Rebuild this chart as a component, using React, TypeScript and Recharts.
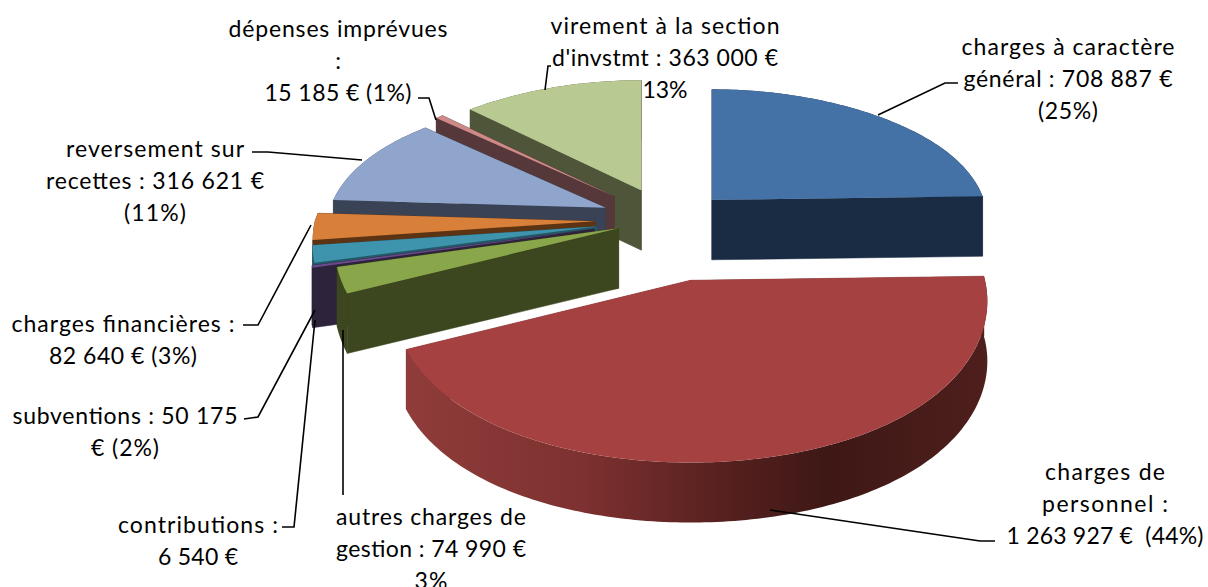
import React from 'react';
import { PieChart, Pie } from 'recharts';

// Listed from the top of the pie going counter-clockwise: this is also back-to-front paint order.
const names = ['virement', 'depenses', 'reversement', 'financieres', 'subventions', 'contributions', 'autres', 'personnel', 'general'];
const values = [363000, 15185, 316621, 82640, 50175, 6540, 74990, 1263927, 708887];
const explode = [0.22, 0.25, 0.23, 0.25, 0.25, 0.26, 0.175, 0.42, 0.23];
const nudgeY = [0, 2, 1, 0, 0, 0, 0, 0, 4];
const nudgeX = [0, 0, 0, 0, 0, 0, 0, 0, 2];
const topColors = ['#b8c992', '#cf8a88', '#8fa5cc', '#d8803a', '#3f94ad', '#6a4a8c', '#8aa64a', '#a54241', '#4471a6'];
const wallColors = ['#4f5539', '#56383a', '#3a4256', '#5c3414', '#255a6b', '#2d233b', '#3c461f', 'url(#redWall)', '#1a2c44'];

const labelLines = [
  ['virement à la section', "d'invstmt : 363 000 €", '13%'],
  ['dépenses imprévues', ':', '15 185 € (1%)'],
  ['reversement sur', 'recettes : 316 621 €', '(11%)'],
  ['charges financières :', '82 640 € (3%)'],
  ['subventions : 50 175', '€ (2%)'],
  ['contributions :', '6 540 €'],
  ['autres charges de', 'gestion : 74 990 €', '3%'],
  ['charges de', 'personnel :', '1 263 927 €  (44%)'],
  ['charges à caractère', 'général : 708 887 €', '(25%)'],
];

// layout only
const labelWidths = [
  [229, 226, 45],
  [219, 6, 147],
  [178, 218, 62],
  [223, 148],
  [225, 68],
  [160, 80],
  [190, 190, 33],
  [120, 126, 197],
  [213, 209, 60],
];
const labelCenters = [[665, 25], [338, 28], [155, 148], [123, 323], [125, 415], [198, 524], [431, 516], [1105, 471], [1068, 46]];
const leaders = [
  '545,90 548,66 551,66',
  '436,120 429,98 418,98',
  '362,160 268,152 252,152',
  '311,225 258,325 243,325',
  '315,310 258,417 244,419',
  '315,320 294,527 282,527',
  '343,330 343,495',
  '770,510 980,541 995,541',
  '878,115 945,83 958,83',
];
const RX = 280;
const RY = 147;
const DEPTH = 60;
const LINE_H = 31.8;

const rad = (d: number) => (d * Math.PI) / 180;

function Slice(props: any) {
  const { cx, cy, startAngle, endAngle, index } = props;
  const mid = rad((startAngle + endAngle) / 2);
  const e = explode[index];
  const ex = e * Math.cos(mid);
  const ey = -e * Math.sin(mid);
  const ax = cx + RX * ex + nudgeX[index];
  const ay = cy + RY * ey + nudgeY[index];
  const proj = (deg: number): [number, number] => {
    const u = Math.cos(rad(deg));
    const v = -Math.sin(rad(deg));
    const vt = ey + v;
    const k = vt < 0 ? 0.18 : 0.12;
    return [ax + (RX * u) / (1 - k * vt), ay + v * (145 + 42 * Math.tanh(vt))];
  };
  const arc: [number, number][] = [];
  const n = Math.max(2, Math.ceil(Math.abs(endAngle - startAngle)));
  for (let i = 0; i <= n; i++) arc.push(proj(startAngle + ((endAngle - startAngle) * i) / n));
  const ring: [number, number][] = [[ax, ay], ...arc];
  const top = 'M' + ring.map((p) => p.join(',')).join('L') + 'Z';
  const cut = (a: [number, number], b: [number, number]) =>
    `M${a[0]},${a[1]}L${b[0]},${b[1]}L${b[0]},${b[1] + DEPTH}L${a[0]},${a[1] + DEPTH}Z`;
  const outer =
    'M' +
    arc.map((p) => p.join(',')).join('L') +
    'L' +
    [...arc].reverse().map((p) => `${p[0]},${p[1] + DEPTH}`).join('L') +
    'Z';
  const wall = wallColors[index];
  const cutFill = wall.startsWith('url') ? '#7a2f2e' : wall;
  return (
    <g>
      {wall.startsWith('url') && (
        <defs>
          <linearGradient id="redWall" gradientUnits="userSpaceOnUse" x1="407" y1="0" x2="992" y2="0">
            <stop offset="0" stopColor="#8f3c3a" />
            <stop offset="0.3" stopColor="#7d3130" />
            <stop offset="0.55" stopColor="#55201e" />
            <stop offset="0.72" stopColor="#3e1816" />
            <stop offset="1" stopColor="#4f1f1c" />
          </linearGradient>
        </defs>
      )}
      <path d={cut(ring[0], arc[0])} fill={cutFill} stroke={cutFill} strokeWidth={0.5} />
      <path d={cut(ring[0], arc[arc.length - 1])} fill={cutFill} stroke={cutFill} strokeWidth={0.5} />
      <path d={outer} fill={wall} />
      <path d={top} fill={topColors[index]} />
    </g>
  );
}

function SliceLabel(props: any) {
  const { index } = props;
  const [x, y] = labelCenters[index];
  return (
    <g>
      <polyline points={leaders[index]} fill="none" stroke="#000" strokeWidth={1.6} />
      {labelLines[index].map((t, i) => (
        <text
          key={i}
          x={x}
          y={y + i * LINE_H}
          textAnchor="middle"
          dominantBaseline="central"
          fontFamily="Lato"
          fontSize={23}
          textLength={labelWidths[index][i]}
          lengthAdjust="spacing"
          fill="#000"
          xmlSpace="preserve"
        >
          {t}
        </text>
      ))}
    </g>
  );
}

const data = names.map((name, i) => ({ name, value: values[i] }));

export default function App() {
  return (
    <div style={{ position: 'absolute', left: 0, top: 0, width: 1208, height: 587, background: '#fff' }}>
      <PieChart width={1208} height={587} margin={{ top: 0, right: 0, bottom: 0, left: 0 }}>
        <Pie
          data={data}
          dataKey="value"
          nameKey="name"
          cx={665}
          cy={220}
          outerRadius={140}
          startAngle={90}
          endAngle={450}
          stroke="none"
          shape={Slice}
          label={SliceLabel}
          labelLine={false}
          isAnimationActive={false}
        />
      </PieChart>
    </div>
  );
}
